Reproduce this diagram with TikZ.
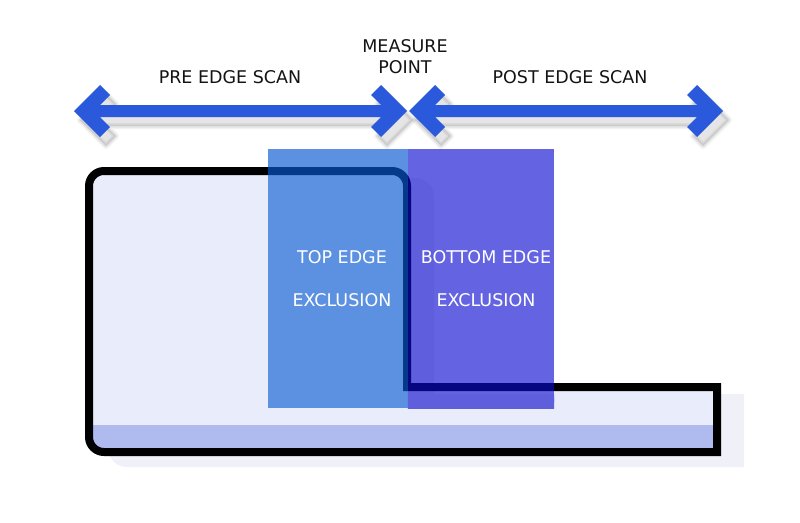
\documentclass[tikz,border=0pt]{standalone}
\usepackage{fontspec}
\setmainfont{DejaVu Sans}
\definecolor{arrowblue}{RGB}{42,89,220}
\definecolor{bodyfill}{RGB}{233,236,250}
\definecolor{bandfill}{RGB}{175,187,239}
\definecolor{bodyshade}{RGB}{239,240,248}
\definecolor{topzonecol}{RGB}{92,144,225}
\definecolor{topzoneline}{RGB}{5,57,138}
\definecolor{botzonecol}{RGB}{100,100,226}
\definecolor{botzoneshade}{RGB}{95,95,222}
\definecolor{botzoneline}{RGB}{6,6,128}

% double-headed scan arrow: #1 = left tip x, #2 = right tip x, #3 = centre y
\newcommand\scanarrowpath[3]{%
  (#1,#3) -- (#1+26,#3-26) -- (#1+36,#3-16) -- (#1+26,#3-6)
  -- (#2-26,#3-6) -- (#2-36,#3-16) -- (#2-26,#3-26) -- (#2,#3)
  -- (#2-26,#3+26) -- (#2-36,#3+16) -- (#2-26,#3+6)
  -- (#1+26,#3+6) -- (#1+36,#3+16) -- (#1+26,#3+26) -- cycle}
% soft drop shadow built from stacked translucent layers, then the arrow
\newcommand\scanarrow[3]{%
  \begin{scope}[shift={(6,9)}, line join=round]
    \draw[black, opacity=0.05, line width=6pt] \scanarrowpath{#1}{#2}{#3};
    \draw[black, opacity=0.06, line width=3pt] \scanarrowpath{#1}{#2}{#3};
    \fill[black, opacity=0.10] \scanarrowpath{#1}{#2}{#3};
  \end{scope}
  \fill[arrowblue] \scanarrowpath{#1}{#2}{#3};}

% stepped body outline (centre line of the stroke)
\newcommand\bodypath{%
  (89,186) .. controls (89,177.7) and (95.7,171) .. (104,171)
  -- (392,171) .. controls (400.3,171) and (407,177.7) .. (407,186)
  -- (407,387) -- (717,387) -- (717,452)
  -- (104,452) .. controls (95.7,452) and (89,445.3) .. (89,437)
  -- cycle}

\begin{document}
\begin{tikzpicture}[x=1pt,y=-1pt,
  lbl/.style={font=\fontsize{17.5}{21}\selectfont, text=black!92, inner sep=0pt},
  wlbl/.style={lbl, text=white},
  zone/.style={inner sep=0pt, draw=none, minimum height=259pt},
  outline/.style={line width=8pt, line join=miter}]
\useasboundingbox[fill=white] (0,0) rectangle (800,522);

% drop shadow of the body
\begin{scope}[shift={(23,11)}]
  \filldraw[bodyshade, line width=8pt] \bodypath;
\end{scope}

% body, lower band and outline
\fill[bodyfill] \bodypath;
\fill[bandfill] (89,425) -- (717,425) -- (717,452) -- (104,452)
  .. controls (95.7,452) and (89,445.3) .. (89,437) -- cycle;
\draw[outline, draw=black] \bodypath;

% exclusion zones, with the outline seen through them
\node[zone, fill=topzonecol, minimum width=140pt] (topzone) at (338,278.5) {};
\node[zone, fill=botzonecol, minimum width=146pt] (botzone) at (481,278.5) {};
\begin{scope}
  \clip (topzone.north west) rectangle (topzone.south east);
  \draw[outline, draw=topzoneline] \bodypath;
\end{scope}
\begin{scope}
  \clip (botzone.north west) rectangle (botzone.south east);
  \begin{scope}[shift={(23,11)}]
    \filldraw[botzoneshade, line width=8pt] \bodypath;
  \end{scope}
  \draw[outline, draw=botzoneline] \bodypath;
\end{scope}

\node[wlbl] (topA) at (342,257) {TOP EDGE};
\node[wlbl] (topB) at (342,300) {EXCLUSION};
\node[wlbl] (botA) at (486,257) {BOTTOM EDGE};
\node[wlbl] (botB) at (486,300) {EXCLUSION};

% scan arrows
\scanarrow{74}{407}{111}
\scanarrow{409}{723}{111}

\node[lbl] (pre) at (230,77) {PRE EDGE SCAN};
\node[lbl, align=center] (measure) at (405,56.5) {MEASURE\\POINT};
\node[lbl] (post) at (570,77) {POST EDGE SCAN};
\end{tikzpicture}
\end{document}
